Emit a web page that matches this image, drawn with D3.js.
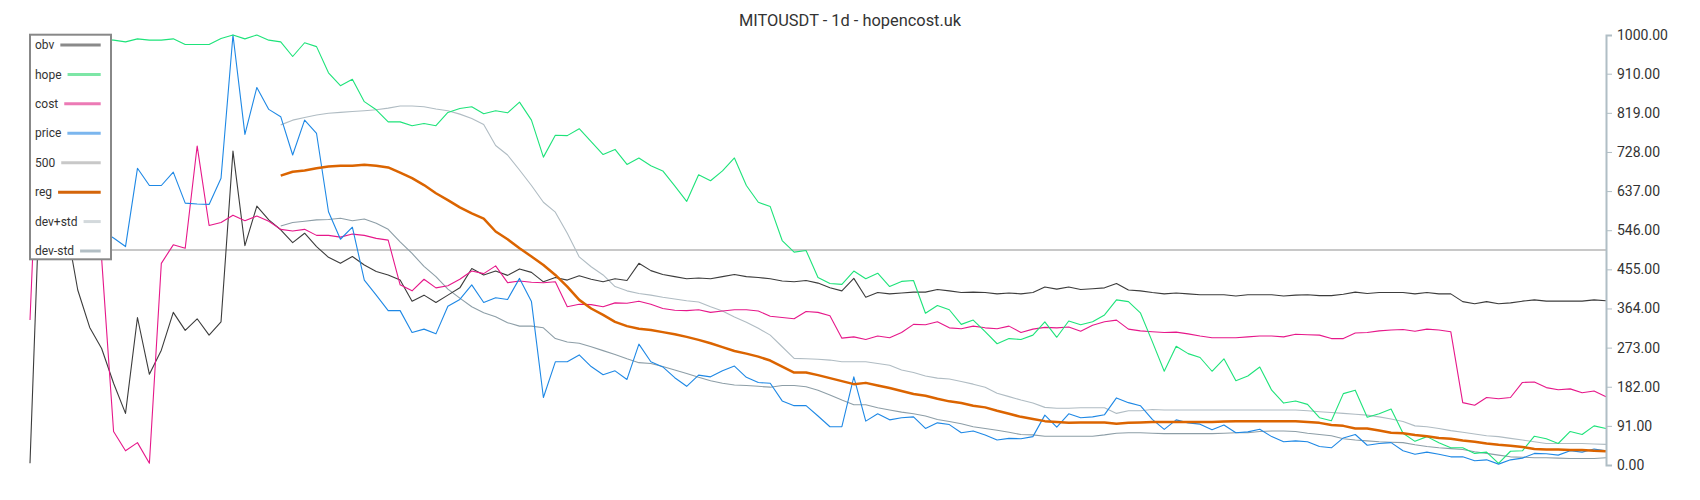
<!DOCTYPE html>
<html>
<head>
<meta charset="utf-8">
<script src="https://cdn.jsdelivr.net/npm/d3@7"></script>
<style>
  html, body { margin: 0; padding: 0; background: #fff; }
  svg { display: block; font-family: Roboto, "Noto Sans", sans-serif; }
</style>
</head>
<body>
<svg id="chart" width="1700" height="500"></svg>
<script>
const title = "MITOUSDT - 1d - hopencost.uk";
const seriesNames = ["obv", "hope", "cost", "price", "500", "reg", "dev+std", "dev-std"];
const tickValues = [0, 91, 182, 273, 364, 455, 546, 637, 728, 819, 910, 1000];
const refLevel = 500;

const obv = [4,775,650,563,407,320,271,190,120,343,211,267,355,313,340,302,333,730,510,602,570,547,517,539,508,483,469,485,465,450,442,430,381,395,378,395,412,457,442,451,441,456,448,426,436,430,440,432,426,433,429,469,452,443,438,433,435,433,438,443,438,436,433,428,426,429,423,412,405,434,390,401,398,400,402,402,408,405,401,402,401,398,400,398,401,414,409,414,408,410,412,422,407,405,401,398,400,398,396,396,396,393,396,396,396,393,395,396,394,394,397,402,399,401,401,401,398,401,398,398,380,375,380,375,377,381,384,381,381,381,381,384,382];

const hope = [990,998,1000,1000,1000,995,990,988,984,991,988,988,991,978,978,978,992,1000,991,1000,988,984,950,982,973,912,882,897,845,826,798,798,789,794,789,820,829,833,817,824,819,844,802,716,767,766,782,752,722,734,699,714,696,684,649,613,675,661,684,714,650,611,601,522,495,499,436,422,420,451,433,446,415,427,429,353,371,361,327,337,310,282,294,292,302,333,297,335,326,333,349,384,380,354,287,218,276,259,250,218,247,196,207,228,174,144,149,141,110,103,166,174,111,119,130,74,55,66,52,40,40,27,30,4,32,33,67,61,50,78,71,91,85];

const cost = [337,1000,560,540,540,530,480,78,33,52,4,469,512,504,742,557,564,581,568,579,567,548,544,548,534,534,530,537,534,527,523,419,405,432,412,417,432,451,445,463,424,428,425,424,426,368,374,373,368,377,376,381,374,364,360,359,361,355,358,361,361,358,346,343,340,357,355,347,295,298,292,300,296,308,327,326,333,319,317,323,319,317,323,308,316,320,319,321,311,325,333,337,316,312,310,308,309,305,300,296,296,296,298,300,300,298,304,303,302,294,294,307,308,312,314,315,311,316,314,310,145,139,157,154,157,192,193,180,175,177,168,172,159];

const price = [560,540,520,560,600,580,545,528,508,690,650,650,681,609,607,606,667,1000,769,878,827,810,721,802,771,589,525,553,430,395,359,359,308,316,305,369,385,419,378,389,385,434,380,157,240,240,256,229,210,219,199,281,240,228,203,183,209,205,219,230,204,192,190,149,138,138,114,89,89,205,102,119,105,110,112,85,98,94,75,79,70,58,62,61,66,116,88,119,110,112,117,156,145,138,106,83,105,98,95,82,93,75,77,83,66,54,56,54,43,40,63,71,46,50,52,33,25,30,25,19,19,10,12,2,12,16,27,26,23,33,30,37,33];

const reg = [null,null,null,null,null,null,null,null,null,null,null,null,null,null,null,null,null,null,null,null,null,673,682,685,690,694,696,696,698,696,692,680,667,651,632,616,599,585,573,543,525,504,485,465,442,415,384,364,349,333,323,317,314,309,304,298,291,283,274,265,259,252,243,229,215,215,209,202,195,188,191,185,179,172,165,161,154,148,144,138,134,126,119,112,107,102,100,98,99,99,99,96,98,99,100,100,100,100,100,100,101,102,102,102,102,102,102,100,98,93,91,85,85,80,75,74,70,67,63,61,57,54,50,47,45,42,37,36,36,35,35,33,32];

const devPlus = [null,null,null,null,null,null,null,null,null,null,null,null,null,null,null,null,null,null,null,null,null,791,802,808,814,818,820,822,824,826,830,835,835,833,828,824,816,806,792,743,721,686,650,611,588,539,484,461,442,415,405,399,395,390,386,382,379,368,358,344,332,318,302,275,248,247,246,244,240,240,240,236,232,221,215,207,202,200,194,188,181,167,159,151,144,134,132,132,133,133,133,120,126,126,129,128,128,128,128,128,128,128,128,128,128,128,128,126,124,122,120,118,116,112,107,101,91,89,85,80,76,72,68,66,62,58,54,50,50,50,50,49,48];

const devMinus = [null,null,null,null,null,null,null,null,null,null,null,null,null,null,null,null,null,null,null,null,null,556,564,567,570,571,574,568,572,562,548,519,492,462,438,409,388,368,354,345,331,323,323,319,294,286,283,275,266,257,247,238,236,229,221,213,204,196,190,186,185,183,181,185,185,182,174,163,151,140,140,133,128,123,119,114,106,101,96,89,85,81,76,71,70,67,67,67,67,67,70,74,75,75,74,73,73,73,73,73,74,75,75,78,79,79,78,74,71,68,61,58,56,54,53,52,47,43,40,38,36,31,27,23,19,18,17,17,16,15,15,15,17];

// styles
const lineColors = {obv:"#3c3c3c", hope:"#1ee37a", cost:"#e6188a", price:"#1e88e5", "500":"#c8c8c8", reg:"#db6400", "dev+std":"#b0bcc3", "dev-std":"#8d9ea7"};
const swatchColors = {obv:"#8a8a8a", hope:"#7de6a6", cost:"#ec7ab5", price:"#7bb6ee", "500":"#c8c8c8", reg:"#d4650a", "dev+std":"#d3d9dc", "dev-std":"#b2bec4"};

const svg = d3.select("#chart");
const n = obv.length;
const x = d3.scaleLinear().domain([0, n - 1]).range([30, 1606]);
const y = d3.scaleLinear().domain([0, 1000]).range([465, 35]);

const line = d3.line()
  .defined(d => d != null)
  .x((d, i) => x(i))
  .y(d => y(d));

const g = svg.append("g");

// reference 500 line
g.append("line")
  .attr("x1", x(0)).attr("x2", x(n - 1))
  .attr("y1", y(refLevel)).attr("y2", y(refLevel))
  .attr("stroke", lineColors["500"]).attr("stroke-width", 2);

const drawOrder = [
  ["dev+std", devPlus, 1.1],
  ["dev-std", devMinus, 1.1],
  ["obv", obv, 1.1],
  ["cost", cost, 1.1],
  ["price", price, 1.1],
  ["hope", hope, 1.1],
  ["reg", reg, 2.5]
];
drawOrder.forEach(([name, data, w]) => {
  g.append("path")
    .datum(data)
    .attr("fill", "none")
    .attr("stroke", lineColors[name])
    .attr("stroke-width", w)
    .attr("stroke-linejoin", "round")
    .attr("d", line);
});

// right axis
const axis = d3.axisRight(y)
  .tickValues(tickValues)
  .tickFormat(d => d.toFixed(2))
  .tickSize(6)
  .tickPadding(5);
const ax = svg.append("g")
  .attr("transform", `translate(${x(n - 1)},0)`)
  .call(axis);
ax.select(".domain").attr("stroke", "#b0bec5").attr("stroke-width", 2);
ax.selectAll(".tick line").attr("stroke", "#b0bec5");
ax.selectAll(".tick text")
  .attr("fill", "#333")
  .style("font-family", "Roboto, sans-serif")
  .style("font-size", "14px");

// title
svg.append("text")
  .attr("x", 850).attr("y", 26)
  .attr("text-anchor", "middle")
  .attr("fill", "#333")
  .style("font-size", "16.4px")
  .style("font-weight", "400")
  .text(title);

// legend
const leg = svg.append("g");
leg.append("rect")
  .attr("x", 30).attr("y", 34.7)
  .attr("width", 81).attr("height", 224.6)
  .attr("fill", "#fff")
  .attr("stroke", "#888")
  .attr("stroke-width", 2);
const rowY = d3.scaleLinear().domain([0, seriesNames.length - 1]).range([45, 251]);
seriesNames.forEach((name, i) => {
  const t = leg.append("text")
    .attr("x", 35).attr("y", rowY(i))
    .attr("dy", "0.35em")
    .attr("fill", "#333")
    .style("font-size", "12px")
    .text(name);
  const w = t.node().getComputedTextLength();
  leg.append("line")
    .attr("x1", 35 + w + 6).attr("x2", 100.7)
    .attr("y1", rowY(i)).attr("y2", rowY(i))
    .attr("stroke", swatchColors[name])
    .attr("stroke-width", 3);
});
</script>
</body>
</html>
